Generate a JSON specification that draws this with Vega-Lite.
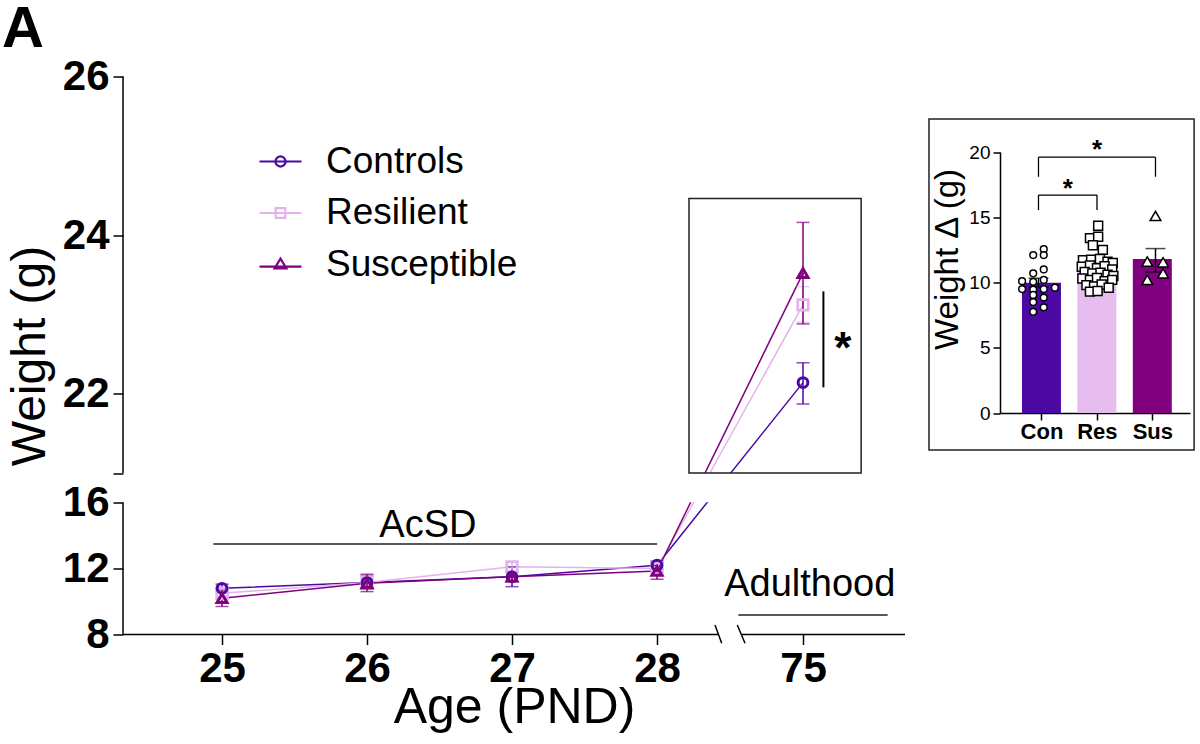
{
  "$schema": "https://vega.github.io/schema/vega-lite/v6.json",
  "width": 782,
  "height": 558,
  "autosize": {"type": "none"},
  "padding": {"left": 123, "top": 76.5, "right": 295, "bottom": 109.5},
  "background": "white",
  "title": {"text": "A", "anchor": "start", "frame": "group", "fontSize": 58, "fontWeight": "bold", "font": "Liberation Sans", "color": "black", "dx": -121, "dy": 3, "offset": 0},
  "config": {
    "font": "Liberation Sans",
    "view": {"stroke": null},
    "axis": {"domainColor": "black", "tickColor": "black", "labelColor": "black", "titleColor": "black", "grid": false, "titleFontWeight": "normal", "labelFont": "Liberation Sans", "titleFont": "Liberation Sans"}
  },
  "datasets": {
    "weights": [
      {"group": "Controls", "age": 25, "mean": 10.8, "lo": 10.55, "hi": 11.05},
      {"group": "Controls", "age": 26, "mean": 11.15, "lo": 10.75, "hi": 11.55},
      {"group": "Controls", "age": 27, "mean": 11.5, "lo": 10.9, "hi": 12.1},
      {"group": "Controls", "age": 28, "mean": 12.2, "lo": 11.95, "hi": 12.45},
      {"group": "Controls", "age": 75, "mean": 22.14, "lo": 21.87, "hi": 22.39},
      {"group": "Resilient", "age": 25, "mean": 10.5, "lo": 10.2, "hi": 10.8},
      {"group": "Resilient", "age": 26, "mean": 11.15, "lo": 10.75, "hi": 11.6},
      {"group": "Resilient", "age": 27, "mean": 12.1, "lo": 11.8, "hi": 12.4},
      {"group": "Resilient", "age": 28, "mean": 12.0, "lo": 11.6, "hi": 12.4},
      {"group": "Resilient", "age": 75, "mean": 23.12, "lo": 22.9, "hi": 23.35},
      {"group": "Susceptible", "age": 25, "mean": 10.2, "lo": 9.7, "hi": 10.7},
      {"group": "Susceptible", "age": 26, "mean": 11.1, "lo": 10.6, "hi": 11.65},
      {"group": "Susceptible", "age": 27, "mean": 11.5, "lo": 11.2, "hi": 11.8},
      {"group": "Susceptible", "age": 28, "mean": 11.85, "lo": 11.35, "hi": 12.35},
      {"group": "Susceptible", "age": 75, "mean": 23.52, "lo": 22.88, "hi": 24.16}
    ],
    "bars": [
      {"grp": "Con", "pos": 1, "mean": 9.98, "lo": 9.63, "hi": 10.33},
      {"grp": "Res", "pos": 2, "mean": 11.2, "lo": 10.9, "hi": 11.5},
      {"grp": "Sus", "pos": 3, "mean": 11.8, "lo": 10.8, "hi": 12.6}
    ],
    "dots": [
      {"grp": "Con", "x": 0.91, "val": 12.1}, {"grp": "Con", "x": 1.09, "val": 12.55}, {"grp": "Con", "x": 1.09, "val": 12.1},
      {"grp": "Con", "x": 1.09, "val": 11.0}, {"grp": "Con", "x": 0.91, "val": 10.7}, {"grp": "Con", "x": 0.72, "val": 10.1},
      {"grp": "Con", "x": 1.09, "val": 10.2}, {"grp": "Con", "x": 0.91, "val": 10.05}, {"grp": "Con", "x": 0.72, "val": 9.5},
      {"grp": "Con", "x": 0.91, "val": 9.45}, {"grp": "Con", "x": 1.09, "val": 9.5}, {"grp": "Con", "x": 1.28, "val": 9.6},
      {"grp": "Con", "x": 0.91, "val": 9.05}, {"grp": "Con", "x": 1.09, "val": 8.85}, {"grp": "Con", "x": 0.91, "val": 8.5},
      {"grp": "Con", "x": 1.09, "val": 8.1}, {"grp": "Con", "x": 0.91, "val": 7.75},
      {"grp": "Res", "x": 2.02, "val": 14.35}, {"grp": "Res", "x": 1.88, "val": 13.4}, {"grp": "Res", "x": 2.02, "val": 13.5},
      {"grp": "Res", "x": 1.93, "val": 12.85}, {"grp": "Res", "x": 2.1, "val": 12.5},
      {"grp": "Res", "x": 1.76, "val": 11.7}, {"grp": "Res", "x": 1.9, "val": 11.75}, {"grp": "Res", "x": 2.05, "val": 11.8},
      {"grp": "Res", "x": 2.18, "val": 11.6}, {"grp": "Res", "x": 2.27, "val": 11.5},
      {"grp": "Res", "x": 1.74, "val": 11.2}, {"grp": "Res", "x": 1.88, "val": 11.3}, {"grp": "Res", "x": 2.0, "val": 11.1},
      {"grp": "Res", "x": 2.13, "val": 11.25}, {"grp": "Res", "x": 2.26, "val": 11.0},
      {"grp": "Res", "x": 1.79, "val": 10.8}, {"grp": "Res", "x": 1.92, "val": 10.7}, {"grp": "Res", "x": 2.06, "val": 10.75},
      {"grp": "Res", "x": 2.18, "val": 10.6}, {"grp": "Res", "x": 2.28, "val": 10.5},
      {"grp": "Res", "x": 1.75, "val": 10.3}, {"grp": "Res", "x": 1.88, "val": 10.2}, {"grp": "Res", "x": 2.0, "val": 10.35},
      {"grp": "Res", "x": 2.13, "val": 10.1}, {"grp": "Res", "x": 2.26, "val": 10.2},
      {"grp": "Res", "x": 1.82, "val": 9.8}, {"grp": "Res", "x": 1.95, "val": 9.7}, {"grp": "Res", "x": 2.08, "val": 9.85},
      {"grp": "Res", "x": 2.2, "val": 9.6}, {"grp": "Res", "x": 1.88, "val": 9.3}, {"grp": "Res", "x": 2.01, "val": 9.35},
      {"grp": "Sus", "x": 3.0, "val": 15.1}, {"grp": "Sus", "x": 2.86, "val": 11.6}, {"grp": "Sus", "x": 3.13, "val": 11.55},
      {"grp": "Sus", "x": 2.86, "val": 10.2}, {"grp": "Sus", "x": 3.13, "val": 10.7}
    ]
  },
  "layer": [
    {
      "data": {"name": "weights"},
      "mark": {"type": "line", "strokeWidth": 1.5},
      "encoding": {
        "x": {"field": "age", "type": "quantitative",
          "scale": {"domain": [24.317, 28, 75, 76], "range": [0, 534, 680, 782], "nice": false, "zero": false},
          "axis": {"orient": "bottom", "values": [25, 26, 27, 28, 75], "domain": false, "tickSize": 10, "tickWidth": 1.5, "labelFontSize": 42, "labelFontWeight": "bold", "labelPadding": 4, "title": "Age (PND)", "titleFontSize": 50, "titlePadding": -7}},
        "y": {"field": "mean", "type": "quantitative",
          "scale": {"domain": [8, 16, 21, 26], "range": [558, 426, 396.5, 0], "nice": false, "zero": false},
          "axis": {"orient": "left", "values": [8, 12, 16, 21, 22, 24, 26], "labelExpr": "datum.value == 21 ? '' : datum.label", "domain": false, "tickSize": 10, "tickWidth": 1.5, "labelFontSize": 42, "labelFontWeight": "bold", "labelPadding": 4, "title": "Weight (g)", "titleFontSize": 48, "titlePadding": 8}},
        "color": {"field": "group", "type": "nominal",
          "scale": {"domain": ["Controls", "Resilient", "Susceptible"], "range": ["#4b08a3", "#e2b4ec", "#80007e"]},
          "legend": null}
      }
    },
    {
      "data": {"values": [{}]},
      "mark": {"type": "rect", "fill": "white"},
      "encoding": {
        "x": {"datum": 30, "type": "quantitative", "scale": {"domain": [24.317, 28, 75, 76], "range": [0, 534, 680, 782], "nice": false, "zero": false}, "axis": null},
        "x2": {"datum": 72},
        "y": {"datum": 16.03, "type": "quantitative", "scale": {"domain": [8, 16, 21, 26], "range": [558, 426, 396.5, 0], "nice": false, "zero": false}, "axis": null},
        "y2": {"datum": 20.98}
      }
    },
    {
      "data": {"name": "weights"},
      "mark": {"type": "errorbar", "ticks": {"size": 13}, "thickness": 1.5},
      "encoding": {
        "x": {"field": "age", "type": "quantitative", "scale": {"domain": [24.317, 28, 75, 76], "range": [0, 534, 680, 782], "nice": false, "zero": false}, "axis": null},
        "y": {"field": "lo", "type": "quantitative", "scale": {"domain": [8, 16, 21, 26], "range": [558, 426, 396.5, 0], "nice": false, "zero": false}, "axis": null},
        "y2": {"field": "hi"},
        "color": {"field": "group", "type": "nominal", "scale": {"domain": ["Controls", "Resilient", "Susceptible"], "range": ["#4b08a3", "#e2b4ec", "#80007e"]}, "legend": null}
      }
    },
    {
      "data": {"name": "weights"},
      "transform": [{"filter": "datum.group == 'Resilient'"}],
      "mark": {"type": "point", "shape": "square", "filled": false, "strokeWidth": 2.8, "size": 110, "opacity": 1},
      "encoding": {
        "x": {"field": "age", "type": "quantitative", "scale": {"domain": [24.317, 28, 75, 76], "range": [0, 534, 680, 782], "nice": false, "zero": false}, "axis": null},
        "y": {"field": "mean", "type": "quantitative", "scale": {"domain": [8, 16, 21, 26], "range": [558, 426, 396.5, 0], "nice": false, "zero": false}, "axis": null},
        "color": {"field": "group", "type": "nominal", "scale": {"domain": ["Controls", "Resilient", "Susceptible"], "range": ["#4b08a3", "#e2b4ec", "#80007e"]}, "legend": null}
      }
    },
    {
      "data": {"name": "weights"},
      "transform": [{"filter": "datum.group == 'Controls'"}],
      "mark": {"type": "point", "shape": "circle", "filled": false, "strokeWidth": 3, "size": 95, "opacity": 1},
      "encoding": {
        "x": {"field": "age", "type": "quantitative", "scale": {"domain": [24.317, 28, 75, 76], "range": [0, 534, 680, 782], "nice": false, "zero": false}, "axis": null},
        "y": {"field": "mean", "type": "quantitative", "scale": {"domain": [8, 16, 21, 26], "range": [558, 426, 396.5, 0], "nice": false, "zero": false}, "axis": null},
        "color": {"field": "group", "type": "nominal", "scale": {"domain": ["Controls", "Resilient", "Susceptible"], "range": ["#4b08a3", "#e2b4ec", "#80007e"]}, "legend": null}
      }
    },
    {
      "data": {"name": "weights"},
      "transform": [{"filter": "datum.group == 'Susceptible'"}],
      "mark": {"type": "point", "shape": "triangle-up", "filled": false, "strokeWidth": 3, "size": 100, "opacity": 1},
      "encoding": {
        "x": {"field": "age", "type": "quantitative", "scale": {"domain": [24.317, 28, 75, 76], "range": [0, 534, 680, 782], "nice": false, "zero": false}, "axis": null},
        "y": {"field": "mean", "type": "quantitative", "scale": {"domain": [8, 16, 21, 26], "range": [558, 426, 396.5, 0], "nice": false, "zero": false}, "axis": null},
        "color": {"field": "group", "type": "nominal", "scale": {"domain": ["Controls", "Resilient", "Susceptible"], "range": ["#4b08a3", "#e2b4ec", "#80007e"]}, "legend": null}
      }
    },
    {
      "data": {"name": "weights"},
      "transform": [{"filter": "datum.age > 1000"}],
      "mark": {"type": "point", "filled": false, "strokeWidth": 2.2, "opacity": 1},
      "encoding": {
        "x": {"field": "age", "type": "quantitative", "scale": {"domain": [24.317, 28, 75, 76], "range": [0, 534, 680, 782], "nice": false, "zero": false}, "axis": null},
        "y": {"field": "mean", "type": "quantitative", "scale": {"domain": [8, 16, 21, 26], "range": [558, 426, 396.5, 0], "nice": false, "zero": false}, "axis": null},
        "color": {"field": "group", "type": "nominal",
          "scale": {"domain": ["Controls", "Resilient", "Susceptible"], "range": ["#4b08a3", "#e2b4ec", "#80007e"]},
          "legend": {"orient": "none", "legendX": 135, "legendY": 62.5, "direction": "vertical", "title": null, "labelFontSize": 37, "labelFont": "Liberation Sans", "labelColor": "black", "labelLimit": 500, "labelOffset": 23, "symbolSize": 1764, "symbolStrokeWidth": 2.2, "rowPadding": 10.5, "padding": 0}},
        "shape": {"field": "group", "type": "nominal",
          "scale": {"domain": ["Controls", "Resilient", "Susceptible"], "range": [
            "M-1,0H1M0.24,0A0.24,0.24,0,1,1,-0.24,0A0.24,0.24,0,1,1,0.24,0Z",
            "M-1,0H1M-0.23,-0.23H0.23V0.23H-0.23Z",
            "M-1,0.1H1M0,-0.28L0.28,0.18H-0.28Z"]},
          "legend": {"orient": "none", "legendX": 135, "legendY": 62.5, "direction": "vertical", "title": null, "labelFontSize": 37, "labelFont": "Liberation Sans", "labelColor": "black", "labelLimit": 500, "labelOffset": 23, "symbolSize": 1764, "symbolStrokeWidth": 2.2, "rowPadding": 10.5, "padding": 0}}
      }
    },
    {
      "data": {"values": [{}]},
      "mark": {"type": "rule", "color": "black", "strokeWidth": 1.5},
      "encoding": {
        "x": {"datum": 24.317, "type": "quantitative", "scale": {"domain": [24.317, 28, 75, 76], "range": [0, 534, 680, 782], "nice": false, "zero": false}, "axis": null},
        "y": {"datum": 21, "type": "quantitative", "scale": {"domain": [8, 16, 21, 26], "range": [558, 426, 396.5, 0], "nice": false, "zero": false}, "axis": null},
        "y2": {"datum": 26}}
    },
    {
      "data": {"values": [{}]},
      "mark": {"type": "rule", "color": "black", "strokeWidth": 1.5},
      "encoding": {
        "x": {"datum": 24.317, "type": "quantitative", "scale": {"domain": [24.317, 28, 75, 76], "range": [0, 534, 680, 782], "nice": false, "zero": false}, "axis": null},
        "y": {"datum": 8, "type": "quantitative", "scale": {"domain": [8, 16, 21, 26], "range": [558, 426, 396.5, 0], "nice": false, "zero": false}, "axis": null},
        "y2": {"datum": 16}}
    },
    {
      "data": {"values": [{}]},
      "mark": {"type": "rule", "color": "black", "strokeWidth": 1.5},
      "encoding": {
        "x": {"datum": 24.317, "type": "quantitative", "scale": {"domain": [24.317, 28, 75, 76], "range": [0, 534, 680, 782], "nice": false, "zero": false}, "axis": null},
        "x2": {"datum": 47.64},
        "y": {"datum": 8, "type": "quantitative", "scale": {"domain": [8, 16, 21, 26], "range": [558, 426, 396.5, 0], "nice": false, "zero": false}, "axis": null}}
    },
    {
      "data": {"values": [{}]},
      "mark": {"type": "rule", "color": "black", "strokeWidth": 1.5},
      "encoding": {
        "x": {"datum": 55.27, "type": "quantitative", "scale": {"domain": [24.317, 28, 75, 76], "range": [0, 534, 680, 782], "nice": false, "zero": false}, "axis": null},
        "x2": {"datum": 76},
        "y": {"datum": 8, "type": "quantitative", "scale": {"domain": [8, 16, 21, 26], "range": [558, 426, 396.5, 0], "nice": false, "zero": false}, "axis": null}}
    },
    {
      "data": {"values": [{}]},
      "mark": {"type": "rule", "color": "black", "strokeWidth": 1.5},
      "encoding": {
        "x": {"datum": 46.67, "type": "quantitative", "scale": {"domain": [24.317, 28, 75, 76], "range": [0, 534, 680, 782], "nice": false, "zero": false}, "axis": null},
        "x2": {"datum": 48.83},
        "y": {"datum": 8.58, "type": "quantitative", "scale": {"domain": [8, 16, 21, 26], "range": [558, 426, 396.5, 0], "nice": false, "zero": false}, "axis": null},
        "y2": {"datum": 7.47}}
    },
    {
      "data": {"values": [{}]},
      "mark": {"type": "rule", "color": "black", "strokeWidth": 1.5},
      "encoding": {
        "x": {"datum": 53.85, "type": "quantitative", "scale": {"domain": [24.317, 28, 75, 76], "range": [0, 534, 680, 782], "nice": false, "zero": false}, "axis": null},
        "x2": {"datum": 56.33},
        "y": {"datum": 8.58, "type": "quantitative", "scale": {"domain": [8, 16, 21, 26], "range": [558, 426, 396.5, 0], "nice": false, "zero": false}, "axis": null},
        "y2": {"datum": 7.47}}
    },
    {
      "data": {"values": [{}]},
      "mark": {"type": "rule", "color": "#222222", "strokeWidth": 1.5},
      "encoding": {
        "x": {"datum": 24.94, "type": "quantitative", "scale": {"domain": [24.317, 28, 75, 76], "range": [0, 534, 680, 782], "nice": false, "zero": false}, "axis": null},
        "x2": {"datum": 28.05},
        "y": {"datum": 13.48, "type": "quantitative", "scale": {"domain": [8, 16, 21, 26], "range": [558, 426, 396.5, 0], "nice": false, "zero": false}, "axis": null}}
    },
    {
      "data": {"values": [{}]},
      "mark": {"type": "text", "text": "AcSD", "fontSize": 38, "font": "Liberation Sans", "color": "black", "baseline": "alphabetic", "align": "center"},
      "encoding": {
        "x": {"datum": 26.42, "type": "quantitative", "scale": {"domain": [24.317, 28, 75, 76], "range": [0, 534, 680, 782], "nice": false, "zero": false}, "axis": null},
        "y": {"datum": 13.9, "type": "quantitative", "scale": {"domain": [8, 16, 21, 26], "range": [558, 426, 396.5, 0], "nice": false, "zero": false}, "axis": null}}
    },
    {
      "data": {"values": [{}]},
      "mark": {"type": "rule", "color": "#222222", "strokeWidth": 1.5},
      "encoding": {
        "x": {"datum": 54.2, "type": "quantitative", "scale": {"domain": [24.317, 28, 75, 76], "range": [0, 534, 680, 782], "nice": false, "zero": false}, "axis": null},
        "x2": {"datum": 75.83},
        "y": {"datum": 9.18, "type": "quantitative", "scale": {"domain": [8, 16, 21, 26], "range": [558, 426, 396.5, 0], "nice": false, "zero": false}, "axis": null}}
    },
    {
      "data": {"values": [{}]},
      "mark": {"type": "text", "text": "Adulthood", "fontSize": 38, "font": "Liberation Sans", "color": "black", "baseline": "alphabetic", "align": "center"},
      "encoding": {
        "x": {"datum": 75.066, "type": "quantitative", "scale": {"domain": [24.317, 28, 75, 76], "range": [0, 534, 680, 782], "nice": false, "zero": false}, "axis": null},
        "y": {"datum": 10.35, "type": "quantitative", "scale": {"domain": [8, 16, 21, 26], "range": [558, 426, 396.5, 0], "nice": false, "zero": false}, "axis": null}}
    },
    {
      "data": {"values": [{}]},
      "mark": {"type": "rect", "fill": null, "fillOpacity": 0, "stroke": "#222222", "strokeWidth": 1.5},
      "encoding": {
        "x": {"datum": 38.3, "type": "quantitative", "scale": {"domain": [24.317, 28, 75, 76], "range": [0, 534, 680, 782], "nice": false, "zero": false}, "axis": null},
        "x2": {"datum": 75.57},
        "y": {"datum": 21, "type": "quantitative", "scale": {"domain": [8, 16, 21, 26], "range": [558, 426, 396.5, 0], "nice": false, "zero": false}, "axis": null},
        "y2": {"datum": 24.46}}
    },
    {
      "data": {"values": [{}]},
      "mark": {"type": "rule", "color": "black", "strokeWidth": 2},
      "encoding": {
        "x": {"datum": 75.2, "type": "quantitative", "scale": {"domain": [24.317, 28, 75, 76], "range": [0, 534, 680, 782], "nice": false, "zero": false}, "axis": null},
        "y": {"datum": 22.08, "type": "quantitative", "scale": {"domain": [8, 16, 21, 26], "range": [558, 426, 396.5, 0], "nice": false, "zero": false}, "axis": null},
        "y2": {"datum": 23.29}}
    },
    {
      "data": {"values": [{}]},
      "mark": {"type": "text", "text": "*", "fontSize": 44, "fontWeight": "bold", "font": "Liberation Sans", "color": "black", "baseline": "alphabetic", "align": "center"},
      "encoding": {
        "x": {"datum": 75.39, "type": "quantitative", "scale": {"domain": [24.317, 28, 75, 76], "range": [0, 534, 680, 782], "nice": false, "zero": false}, "axis": null},
        "y": {"datum": 22.39, "type": "quantitative", "scale": {"domain": [8, 16, 21, 26], "range": [558, 426, 396.5, 0], "nice": false, "zero": false}, "axis": null}}
    },
    {
      "data": {"name": "bars"},
      "mark": {"type": "bar", "width": 39},
      "encoding": {
        "x": {"field": "pos", "type": "quantitative",
          "scale": {"domain": [0.342, 3.59], "range": [877, 1067], "nice": false, "zero": false},
          "axis": {"orient": "bottom", "offset": -221.5, "values": [1, 2, 3], "labelExpr": "datum.value == 1 ? 'Con' : datum.value == 2 ? 'Res' : 'Sus'", "tickSize": 7, "tickWidth": 1.5, "domainWidth": 1.5, "labelFontSize": 22, "labelFontWeight": "bold", "labelPadding": 1, "title": null}},
        "y": {"field": "mean", "type": "quantitative",
          "scale": {"domain": [0, 20], "range": [336.5, 75.5], "nice": false, "zero": true},
          "axis": {"orient": "left", "offset": -877, "values": [0, 5, 10, 15, 20], "tickSize": 7, "tickWidth": 1.5, "domainWidth": 1.5, "labelFontSize": 19, "labelPadding": 3, "title": "Weight Δ (g)", "titleFontSize": 33, "titlePadding": 4, "titleY": 182.5}},
        "y2": {"datum": 0},
        "color": {"field": "grp", "type": "nominal", "scale": {"domain": ["Con", "Res", "Sus"], "range": ["#4b08a3", "#e6bdee", "#800080"]}, "legend": null}
      }
    },
    {
      "data": {"values": [{}]},
      "mark": {"type": "rect", "fill": null, "fillOpacity": 0, "stroke": "#222222", "strokeWidth": 1.5},
      "encoding": {
        "x": {"datum": -0.872, "type": "quantitative", "scale": {"domain": [0.342, 3.59], "range": [877, 1067], "nice": false, "zero": false}, "axis": null},
        "x2": {"datum": 3.66},
        "y": {"datum": -2.835, "type": "quantitative", "scale": {"domain": [0, 20], "range": [336.5, 75.5], "nice": false, "zero": false}, "axis": null},
        "y2": {"datum": 22.53}}
    },
    {
      "data": {"name": "bars"},
      "mark": {"type": "errorbar", "color": "black", "ticks": {"size": 20, "color": "black"}, "thickness": 1.5},
      "encoding": {
        "x": {"field": "pos", "type": "quantitative", "scale": {"domain": [0.342, 3.59], "range": [877, 1067], "nice": false, "zero": false}, "axis": null},
        "y": {"field": "lo", "type": "quantitative", "scale": {"domain": [0, 20], "range": [336.5, 75.5], "nice": false, "zero": false}, "axis": null},
        "y2": {"field": "hi"}
      }
    },
    {
      "data": {"name": "dots"},
      "mark": {"type": "point", "filled": true, "fill": "white", "stroke": "black", "strokeWidth": 1.5, "opacity": 1},
      "encoding": {
        "x": {"field": "x", "type": "quantitative", "scale": {"domain": [0.342, 3.59], "range": [877, 1067], "nice": false, "zero": false}, "axis": null},
        "y": {"field": "val", "type": "quantitative", "scale": {"domain": [0, 20], "range": [336.5, 75.5], "nice": false, "zero": false}, "axis": null},
        "shape": {"field": "grp", "type": "nominal", "scale": {"domain": ["Con", "Res", "Sus"], "range": ["circle", "square", "triangle-up"]}, "legend": null},
        "size": {"field": "grp", "type": "nominal", "scale": {"domain": ["Con", "Res", "Sus"], "range": [45, 115, 75]}, "legend": null}
      }
    },
    {
      "data": {"values": [{}]},
      "mark": {"type": "rule", "color": "black", "strokeWidth": 1.3},
      "encoding": {
        "x": {"datum": 1, "type": "quantitative", "scale": {"domain": [0.342, 3.59], "range": [877, 1067], "nice": false, "zero": false}, "axis": null},
        "x2": {"datum": 3},
        "y": {"datum": 19.6, "type": "quantitative", "scale": {"domain": [0, 20], "range": [336.5, 75.5], "nice": false, "zero": false}, "axis": null}}
    },
    {
      "data": {"values": [{}]},
      "mark": {"type": "rule", "color": "black", "strokeWidth": 1.3},
      "encoding": {
        "x": {"datum": 1, "type": "quantitative", "scale": {"domain": [0.342, 3.59], "range": [877, 1067], "nice": false, "zero": false}, "axis": null},
        "y": {"datum": 18.1, "type": "quantitative", "scale": {"domain": [0, 20], "range": [336.5, 75.5], "nice": false, "zero": false}, "axis": null},
        "y2": {"datum": 19.6}}
    },
    {
      "data": {"values": [{}]},
      "mark": {"type": "rule", "color": "black", "strokeWidth": 1.3},
      "encoding": {
        "x": {"datum": 3, "type": "quantitative", "scale": {"domain": [0.342, 3.59], "range": [877, 1067], "nice": false, "zero": false}, "axis": null},
        "y": {"datum": 18.1, "type": "quantitative", "scale": {"domain": [0, 20], "range": [336.5, 75.5], "nice": false, "zero": false}, "axis": null},
        "y2": {"datum": 19.6}}
    },
    {
      "data": {"values": [{}]},
      "mark": {"type": "rule", "color": "black", "strokeWidth": 1.3},
      "encoding": {
        "x": {"datum": 1, "type": "quantitative", "scale": {"domain": [0.342, 3.59], "range": [877, 1067], "nice": false, "zero": false}, "axis": null},
        "x2": {"datum": 2},
        "y": {"datum": 16.7, "type": "quantitative", "scale": {"domain": [0, 20], "range": [336.5, 75.5], "nice": false, "zero": false}, "axis": null}}
    },
    {
      "data": {"values": [{}]},
      "mark": {"type": "rule", "color": "black", "strokeWidth": 1.3},
      "encoding": {
        "x": {"datum": 1, "type": "quantitative", "scale": {"domain": [0.342, 3.59], "range": [877, 1067], "nice": false, "zero": false}, "axis": null},
        "y": {"datum": 15.55, "type": "quantitative", "scale": {"domain": [0, 20], "range": [336.5, 75.5], "nice": false, "zero": false}, "axis": null},
        "y2": {"datum": 16.7}}
    },
    {
      "data": {"values": [{}]},
      "mark": {"type": "rule", "color": "black", "strokeWidth": 1.3},
      "encoding": {
        "x": {"datum": 2, "type": "quantitative", "scale": {"domain": [0.342, 3.59], "range": [877, 1067], "nice": false, "zero": false}, "axis": null},
        "y": {"datum": 15.55, "type": "quantitative", "scale": {"domain": [0, 20], "range": [336.5, 75.5], "nice": false, "zero": false}, "axis": null},
        "y2": {"datum": 16.7}}
    },
    {
      "data": {"values": [{}]},
      "mark": {"type": "text", "text": "*", "fontSize": 26, "fontWeight": "bold", "font": "Liberation Sans", "color": "black", "baseline": "alphabetic", "align": "center"},
      "encoding": {
        "x": {"datum": 2, "type": "quantitative", "scale": {"domain": [0.342, 3.59], "range": [877, 1067], "nice": false, "zero": false}, "axis": null},
        "y": {"datum": 19.54, "type": "quantitative", "scale": {"domain": [0, 20], "range": [336.5, 75.5], "nice": false, "zero": false}, "axis": null}}
    },
    {
      "data": {"values": [{}]},
      "mark": {"type": "text", "text": "*", "fontSize": 26, "fontWeight": "bold", "font": "Liberation Sans", "color": "black", "baseline": "alphabetic", "align": "center"},
      "encoding": {
        "x": {"datum": 1.5, "type": "quantitative", "scale": {"domain": [0.342, 3.59], "range": [877, 1067], "nice": false, "zero": false}, "axis": null},
        "y": {"datum": 16.55, "type": "quantitative", "scale": {"domain": [0, 20], "range": [336.5, 75.5], "nice": false, "zero": false}, "axis": null}}
    }
  ],
  "resolve": {"scale": {"x": "independent", "y": "independent", "color": "independent", "shape": "independent", "size": "independent"}}
}
